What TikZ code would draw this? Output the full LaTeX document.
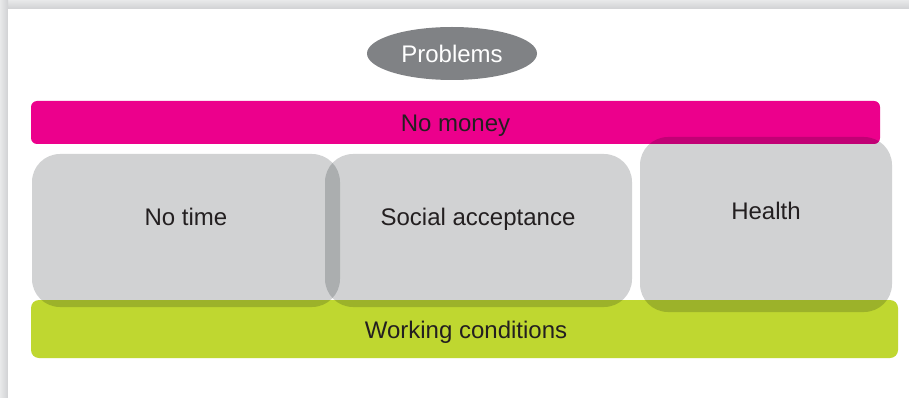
\documentclass[tikz,border=0pt]{standalone}
\usepackage{fontspec}
\setmainfont{Liberation Sans}
\usetikzlibrary{shapes.geometric}

\definecolor{barmagenta}{HTML}{EC008C}
\definecolor{bargreen}{HTML}{BFD730}
\definecolor{ovalgray}{HTML}{808285}
\definecolor{inkdark}{HTML}{231F20}
\definecolor{tintdark}{HTML}{000B10}
\definecolor{shadelight}{HTML}{E8E9EA}
\definecolor{shadedark}{HTML}{D0D1D3}

\tikzset{
  bar/.style={inner sep=0pt, rounded corners=#1},
  panel/.style={inner sep=0pt, fill=tintdark, fill opacity=0.18, rounded corners=28pt},
  label/.style={anchor=base, text=inkdark, font=\fontsize{24}{28}\selectfont, inner sep=0pt},
}

\begin{document}
\begin{tikzpicture}[x=1pt, y=-1pt]
  \useasboundingbox (0,0) rectangle (909,398);

  % page frame with soft drop shadow on the top and left edges
  \fill[shadelight] (0,0) rectangle (909,398);
  \shade[top color=shadelight, bottom color=shadedark] (0,0) rectangle (909,9);
  \shade[left color=shadelight, right color=shadedark] (0,0) rectangle (8,398);
  \fill[white] (8,9) rectangle (909,398);

  % heading oval
  \node[ellipse, fill=ovalgray, inner sep=0pt, minimum width=170pt, minimum height=53pt]
    (problems) at (452,53.5) {};
  \node[label, text=white] (problemsText) at (452,62.3) {Problems};

  % horizontal bars
  \node[bar=6pt, fill=barmagenta, minimum width=849pt, minimum height=43pt]
    (money) at (455.5,122.5) {};
  \node[bar=8pt, fill=bargreen, minimum width=867pt, minimum height=58pt]
    (working) at (464.5,329) {};

  % translucent panels laid over the bars
  \node[panel, minimum width=308pt, minimum height=153pt] (notime) at (186,230.5) {};
  \node[panel, minimum width=307pt, minimum height=153pt] (social) at (478.5,230.5) {};
  \node[panel, minimum width=252pt, minimum height=175pt] (health) at (766,224.5) {};

  % labels
  \node[label] (moneyText)   at (455.5,131.5) {No money};
  \node[label] (notimeText)  at (186,225.5)   {No time};
  \node[label] (socialText)  at (478,225.2)   {Social acceptance};
  \node[label] (healthText)  at (766,219.3)   {Health};
  \node[label] (workingText) at (466,338.3)   {Working conditions};
\end{tikzpicture}
\end{document}
